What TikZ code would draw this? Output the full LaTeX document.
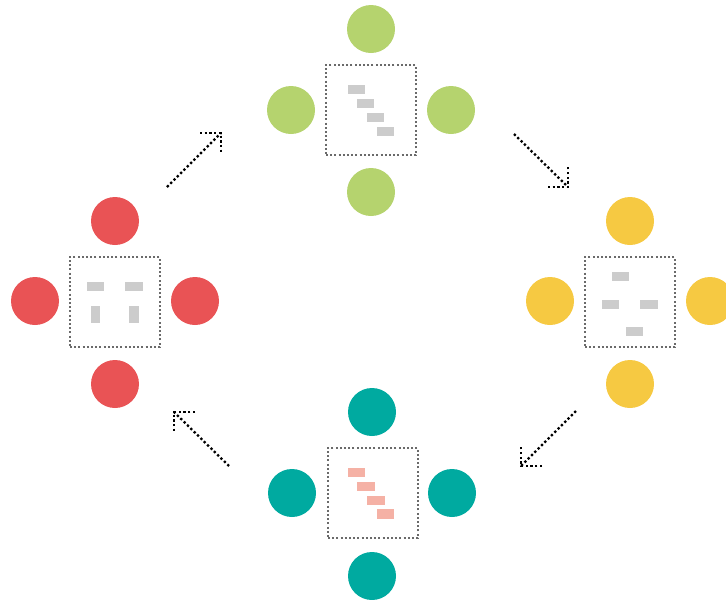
\documentclass[tikz,border=0pt]{standalone}
\usetikzlibrary{calc}
\definecolor{cred}{HTML}{E95355}
\definecolor{cgreen}{HTML}{B5D36E}
\definecolor{cyellow}{HTML}{F6C942}
\definecolor{cteal}{HTML}{00AAA0}
\definecolor{cbar}{HTML}{CCCCCC}
\definecolor{csalmon}{HTML}{F5B1A5}
\definecolor{cframe}{HTML}{6A6A6A}
\begin{document}
\begin{tikzpicture}[x=1pt,y=-1pt,
  ball/.style={circle, minimum size=48pt, inner sep=0pt, fill=#1},
  frame/.style={draw=cframe, minimum size=90pt, inner sep=0pt, line width=2pt, line cap=butt, dash pattern=on 2pt off 2.2pt},
  bar/.style={fill=#1},
  flow/.style={draw=black, line width=2.3pt, line cap=butt, dash pattern=on 2.3pt off 2.4pt}]
\useasboundingbox (0,0) rectangle (726,600);

% green group
\node[frame] (gbox) at (371,110) {};
\node[ball=cgreen] (gt) at (371,29) {};
\node[ball=cgreen] (gl) at (291,110) {};
\node[ball=cgreen] (gr) at (451,110) {};
\node[ball=cgreen] (gb) at (371,192) {};
\fill[bar=cbar] (348,85) rectangle (365,94);
\fill[bar=cbar] (357,99) rectangle (374,108);
\fill[bar=cbar] (367,113) rectangle (384,122);
\fill[bar=cbar] (377,127) rectangle (394,136);

% red group
\node[frame] (rbox) at (115,302) {};
\node[ball=cred] (rt) at (115,221) {};
\node[ball=cred] (rl) at (35,301) {};
\node[ball=cred] (rr) at (195,301) {};
\node[ball=cred] (rb) at (115,384) {};
\fill[bar=cbar] (87,282) rectangle (104,291);
\fill[bar=cbar] (125,282) rectangle (143,291);
\fill[bar=cbar] (91,306) rectangle (100,323);
\fill[bar=cbar] (129,306) rectangle (139,323);

% yellow group
\node[frame] (ybox) at (630,302) {};
\node[ball=cyellow] (yt) at (630,221) {};
\node[ball=cyellow] (yl) at (550,301) {};
\node[ball=cyellow] (yr) at (710,301) {};
\node[ball=cyellow] (yb) at (630,384) {};
\fill[bar=cbar] (612,272) rectangle (629,281);
\fill[bar=cbar] (602,300) rectangle (619,309);
\fill[bar=cbar] (640,300) rectangle (658,309);
\fill[bar=cbar] (626,327) rectangle (643,336);

% teal group
\node[frame] (tbox) at (373,493) {};
\node[ball=cteal] (tt) at (372,412) {};
\node[ball=cteal] (tl) at (292,493) {};
\node[ball=cteal] (tr) at (452,493) {};
\node[ball=cteal] (tb) at (372,576) {};
\fill[bar=csalmon] (348,468) rectangle (365,477);
\fill[bar=csalmon] (357,482) rectangle (375,491);
\fill[bar=csalmon] (367,496) rectangle (385,505);
\fill[bar=csalmon] (377,509) rectangle (394,519);

% arrows
\coordinate (a1s) at (167,187);
\coordinate (a1e) at (221,133);
\coordinate (a2s) at (514,134);
\coordinate (a2e) at (568,187);
\coordinate (a3s) at (576,411);
\coordinate (a3e) at (521,466);
\coordinate (a4s) at (229,466);
\coordinate (a4e) at (174,412);

\path[flow] (a1s) -- (a1e);
\path[flow] ($(a1e)+(-21,0)$) -- (a1e) -- ($(a1e)+(0,20)$);
\path[flow] (a2s) -- (a2e);
\path[flow] ($(a2e)+(-20,0)$) -- (a2e) -- ($(a2e)+(0,-20)$);
\path[flow] (a3s) -- (a3e);
\path[flow] ($(a3e)+(21,0)$) -- (a3e) -- ($(a3e)+(0,-21)$);
\path[flow] (a4s) -- (a4e);
\path[flow] ($(a4e)+(21,0)$) -- (a4e) -- ($(a4e)+(0,20)$);
\end{tikzpicture}
\end{document}
